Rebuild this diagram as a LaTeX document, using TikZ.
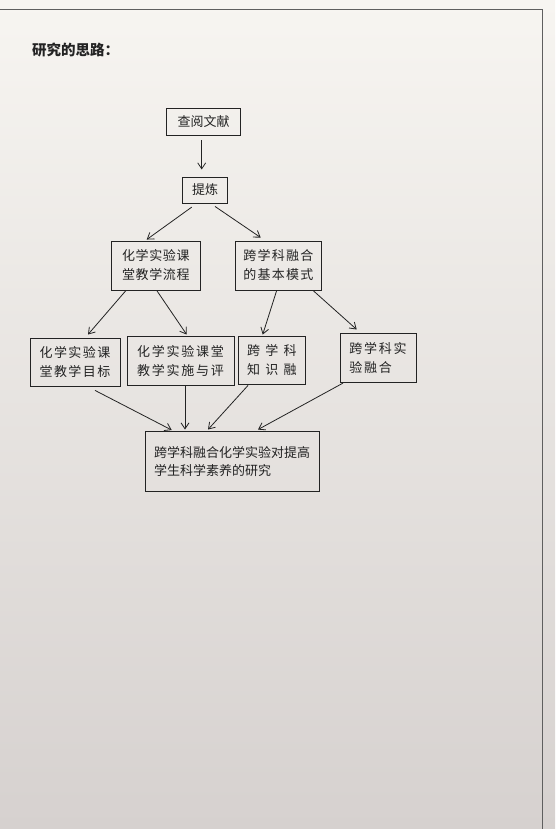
\documentclass[tikz,border=0pt]{standalone}
\usepackage{fontspec}
\newfontfamily\cjk{Noto Sans CJK SC}
\usetikzlibrary{arrows.meta,calc}
\def\lsp#1#2{\def\lspk{#1}\lspaux#2\relax}
\def\lspaux#1#2{#1\ifx#2\relax\else\kern\lspk\expandafter\lspaux\expandafter#2\fi}
\definecolor{ink}{RGB}{35,35,35}
\definecolor{paperT}{RGB}{247,245,241}
\definecolor{paperB}{RGB}{214,209,207}
\definecolor{rulecol}{RGB}{95,95,95}
\tikzset{
  box/.style={draw=ink, line width=0.9pt, inner sep=0pt, align=left, text=ink,
    font=\cjk\fontsize{13}{19}\selectfont},
  arr/.style={draw=ink, line width=0.8pt, -{Straight Barb[length=6pt,width=8pt]}}
}
\begin{document}
\begin{tikzpicture}[x=1pt,y=-1pt]
\useasboundingbox (0,0) rectangle (555,829);
\shade[top color=paperT, bottom color=paperB] (0,0) rectangle (555,829);
\draw[rulecol, line width=1pt] (0,10) -- (542.3,10) -- (542.3,829);

\node[anchor=west, inner sep=0pt, text=ink, font=\cjk\bfseries\fontsize{14.5}{16}\selectfont] (t) at (32,50) {研究的思路：};

\node[box, minimum width=74pt, minimum height=27pt] (a) at (203.7,121.5) {查阅文献};
\node[box, minimum width=44.6pt, minimum height=26pt] (b) at (205,190) {提炼};
\node[box, minimum width=88.3pt, minimum height=49pt] (c) at (155.8,265.5) {\lsp{0.65pt}{化学实验课}\\\lsp{0.65pt}{堂教学流程}};
\node[box, minimum width=86.7pt, minimum height=49pt] (d) at (278.3,265.5) {\lsp{1.25pt}{跨学科融合}\\\lsp{1.25pt}{的基本模式}};
\node[box, minimum width=90pt, minimum height=48.7pt] (e) at (75,362.3) {\lsp{1.4pt}{化学实验课}\\\lsp{1.4pt}{堂教学目标}};
\node[box, minimum width=107pt, minimum height=49pt] (f) at (180.5,361.2) {\lsp{1.8pt}{化学实验课堂}\\\lsp{1.8pt}{教学实施与评}};
\node[box, minimum width=67.7pt, minimum height=48pt] (g) at (271.8,360) {\lsp{5.3pt}{跨学科}\\\lsp{5.3pt}{知识融}};
\node[box, minimum width=76pt, minimum height=49.7pt] (h) at (378,357.8) {\lsp{1.7pt}{跨学科实}\\\lsp{1.7pt}{验融合}};
\node[box, minimum width=174.3pt, minimum height=60pt, font=\cjk\fontsize{13}{17.5}\selectfont] (i) at (232.2,461.7) {跨学科融合化学实验对提高\\学生科学素养的研究};

\draw[arr] ($(a.south)+(-2,5)$) -- ($(b.north)+(-3.3,-7)$);
\draw[arr] ($(b.south)+(-13.3,3.7)$) -- ($(c.north)+(-9.1,-1)$);
\draw[arr] ($(b.south)+(10,3)$) -- ($(d.north)+(-17.6,-3)$);
\draw[arr] ($(c.south)+(-29.8,0)$) -- ($(e.north)+(13,-3)$);
\draw[arr] ($(c.south)+(0.9,0)$) -- ($(f.north)+(6.2,-1.7)$);
\draw[arr] ($(d.south)+(-1.6,0)$) -- ($(g.north)+(-9.1,-1)$);
\draw[arr] ($(d.south)+(34.7,0)$) -- ($(h.north)+(-21.3,-3)$);
\draw[arr] ($(e.south)+(20,3.3)$) -- ($(i.north)+(-60.5,-1.2)$);
\draw[arr] ($(f.south)+(4.5,0)$) -- ($(i.north)+(-47.2,-1.7)$);
\draw[arr] ($(g.south)+(-23.8,1)$) -- ($(i.north)+(-24.2,-1.7)$);
\draw[arr] ($(h.south)+(-35,0)$) -- ($(i.north)+(25.8,-1.7)$);
\end{tikzpicture}
\end{document}
